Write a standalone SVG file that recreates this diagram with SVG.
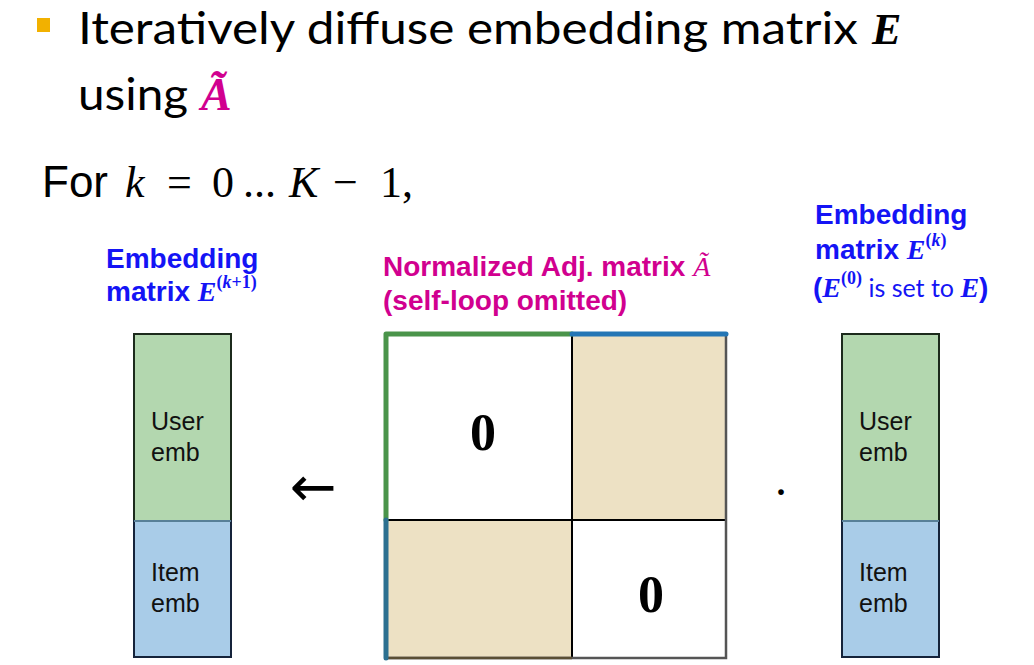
<svg xmlns="http://www.w3.org/2000/svg" width="1034" height="665" viewBox="0 0 1034 665">
<style>
.title{font-family:Lato,"Open Sans",sans-serif;font-size:44px;fill:#000}
.mathE{font-family:"Liberation Serif",serif;font-weight:bold;font-style:italic}
.lbl{font-family:"Liberation Sans",Arial,sans-serif;font-weight:bold;font-size:28px}
.blue{fill:#1414F5}
.mag{fill:#D1008F}
.emb{font-family:"Liberation Sans",Arial,sans-serif;font-size:25px;fill:#111}
.zero{font-family:"Liberation Serif",serif;font-weight:bold;font-size:52px;fill:#000;text-anchor:middle}
.math{font-family:"Liberation Serif",serif;font-size:44px;fill:#000}
.it{font-style:italic}
.sup{font-family:"Liberation Serif",serif;font-weight:bold;font-size:18px;font-style:normal}
.cell{stroke:#000;stroke-width:2}
</style>
<rect x="37" y="18" width="13" height="14" fill="#F2B100"/>
<text class="title" x="78" y="44" textLength="780" lengthAdjust="spacingAndGlyphs">Iteratively diffuse embedding matrix</text>
<text class="title mathE" x="872" y="44" font-size="44">E</text>
<text class="title" x="78" y="110" textLength="110" lengthAdjust="spacingAndGlyphs">using</text>
<text class="mathE mag" x="201" y="110" font-size="46">Ã</text>

<g id="loop">
<text class="math" y="197"><tspan x="42" font-family="Liberation Sans,Arial,sans-serif">For</tspan><tspan x="125" class="it">k</tspan><tspan x="167">=</tspan><tspan x="212">0</tspan><tspan x="243">...</tspan><tspan x="289" class="it">K</tspan><tspan x="333">−</tspan><tspan x="380">1,</tspan></text>
</g>

<g id="label-left">
<text class="lbl blue" x="106" y="268">Embedding</text>
<text class="lbl blue" x="106" y="301">matrix <tspan class="mathE">E</tspan><tspan class="sup" dy="-13">(<tspan font-style="italic">k</tspan>+1)</tspan></text>
</g>

<g id="label-center">
<text class="lbl mag" x="383" y="276">Normalized Adj. matrix <tspan font-family="Liberation Serif,serif" font-style="italic" font-weight="normal">Ã</tspan></text>
<text class="lbl mag" x="383" y="310">(self-loop omitted)</text>
</g>

<g id="label-right">
<text class="lbl blue" x="815" y="224">Embedding</text>
<text class="lbl blue" x="815" y="259">matrix <tspan class="mathE">E</tspan><tspan class="sup" dy="-13">(<tspan font-style="italic">k</tspan>)</tspan></text>
<text class="lbl blue" x="813" y="297">(<tspan class="mathE">E</tspan><tspan class="sup" dy="-13">(0)</tspan><tspan dy="13" font-family="Lato,Open Sans,sans-serif" font-weight="normal" font-size="25"> is set to </tspan><tspan class="mathE">E</tspan>)</text>
</g>

<g id="matrix-left">
<rect x="134" y="334" width="97" height="187" fill="#B3D7AF" stroke="#1c2a1c" stroke-width="2"/>
<rect x="134" y="521" width="97" height="136" fill="#A9CCE8" stroke="#15233a" stroke-width="2"/>
<line x1="134" y1="521" x2="231" y2="521" stroke="#6fa0b8" stroke-width="1.5"/>
<text class="emb" x="151" y="430">User</text>
<text class="emb" x="151" y="461">emb</text>
<text class="emb" x="151" y="581">Item</text>
<text class="emb" x="151" y="612">emb</text>
</g>

<g id="arrow-op">
<text x="313" y="506" font-family="DejaVu Sans,sans-serif" font-size="56" text-anchor="middle" fill="#000">←</text>
</g>

<g id="adj-matrix">
<rect x="386" y="334" width="186" height="186" fill="#FFFFFF"/>
<rect x="572" y="334" width="154" height="186" fill="#EDE1C4"/>
<rect x="386" y="520" width="186" height="138" fill="#EDE1C4"/>
<rect x="572" y="520" width="154" height="138" fill="#FFFFFF"/>
<line x1="572" y1="334" x2="572" y2="658" class="cell"/>
<line x1="388" y1="520" x2="726" y2="520" class="cell" stroke="#221a00"/>
<polyline points="726,334 726,658 386,658" fill="none" stroke="#555" stroke-width="2.5"/>
<line x1="388" y1="658" x2="572" y2="658" stroke="#5a4e35" stroke-width="2.5"/>
<polyline points="386,520 386,334 572,334" fill="none" stroke="#4A944A" stroke-width="5" stroke-linecap="round" stroke-linejoin="round"/>
<line x1="572" y1="334" x2="726" y2="334" stroke="#2476B5" stroke-width="5" stroke-linecap="round"/>
<line x1="386" y1="520" x2="386" y2="658" stroke="#2C7090" stroke-width="5" stroke-linecap="round"/>
<text class="zero" x="483" y="450">0</text>
<text class="zero" x="651" y="612">0</text>
</g>

<g id="dot-op">
<text x="781" y="508" font-family="Liberation Serif,serif" font-size="48" text-anchor="middle" fill="#000">·</text>
</g>

<g id="matrix-right">
<rect x="842" y="334" width="97" height="187" fill="#B3D7AF" stroke="#1c2a1c" stroke-width="2"/>
<rect x="842" y="521" width="97" height="136" fill="#A9CCE8" stroke="#15233a" stroke-width="2"/>
<line x1="842" y1="521" x2="939" y2="521" stroke="#6fa0b8" stroke-width="1.5"/>
<text class="emb" x="859" y="430">User</text>
<text class="emb" x="859" y="461">emb</text>
<text class="emb" x="859" y="581">Item</text>
<text class="emb" x="859" y="612">emb</text>
</g>
<g id="connectors"></g>
</svg>
